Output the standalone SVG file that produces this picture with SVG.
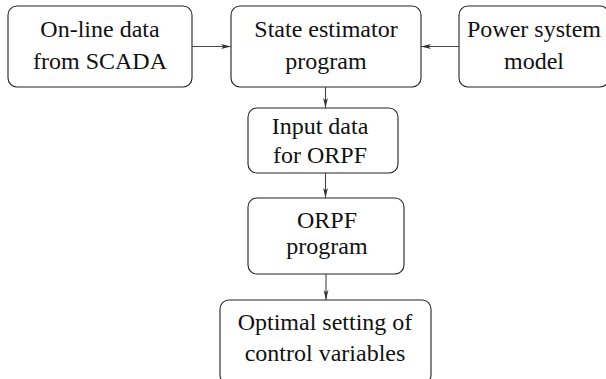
<svg xmlns="http://www.w3.org/2000/svg" width="606" height="379" viewBox="0 0 606 379">
  <defs>
    <marker id="arrow" viewBox="0 0 10 6" refX="10" refY="3" markerWidth="10" markerHeight="6" markerUnits="userSpaceOnUse" orient="auto">
      <path d="M0,0.6 L10,3 L0,5.4 L2.5,3 Z" fill="#333"/>
    </marker>
  </defs>
  <style>
    .box { fill: #fff; stroke: #222; stroke-width: 1.1; }
    .label { font-family: 'Liberation Serif', 'Times New Roman', serif; font-size: 24px; fill: #111; text-anchor: middle; }
    .link { stroke: #444; stroke-width: 1.1; fill: none; marker-end: url(#arrow); }
  </style>
  <rect width="606" height="379" fill="#fff"/>

  <g id="scada">
    <rect class="box" x="8" y="6" width="184" height="81" rx="9"/>
    <text class="label" x="100" y="37">On-line data</text>
    <text class="label" x="100" y="69">from SCADA</text>
  </g>

  <g id="estimator">
    <rect class="box" x="231" y="6" width="190" height="81" rx="9"/>
    <text class="label" x="326" y="37">State estimator</text>
    <text class="label" x="326" y="69">program</text>
  </g>

  <g id="model">
    <rect class="box" x="459" y="6" width="150" height="81" rx="9"/>
    <text class="label" x="534" y="37">Power system</text>
    <text class="label" x="534" y="69">model</text>
  </g>

  <g id="input">
    <rect class="box" x="248" y="108" width="150" height="65" rx="9"/>
    <text class="label" x="320" y="134">Input data</text>
    <text class="label" x="320" y="163">for ORPF</text>
  </g>

  <g id="orpf">
    <rect class="box" x="248" y="198" width="156" height="76" rx="9"/>
    <text class="label" x="327" y="228">ORPF</text>
    <text class="label" x="327" y="254">program</text>
  </g>

  <g id="output">
    <rect class="box" x="220" y="300" width="211" height="84" rx="9"/>
    <text class="label" x="325" y="330">Optimal setting of</text>
    <text class="label" x="325" y="361">control variables</text>
  </g>

  <g id="connectors">
    <line class="link" x1="192" y1="46.5" x2="231" y2="46.5"/>
    <line class="link" x1="459" y1="46.5" x2="421" y2="46.5"/>
    <line class="link" x1="325.5" y1="87" x2="325.5" y2="108"/>
    <line class="link" x1="325.5" y1="173" x2="325.5" y2="198"/>
    <line class="link" x1="326" y1="274" x2="326" y2="300"/>
  </g>
</svg>
